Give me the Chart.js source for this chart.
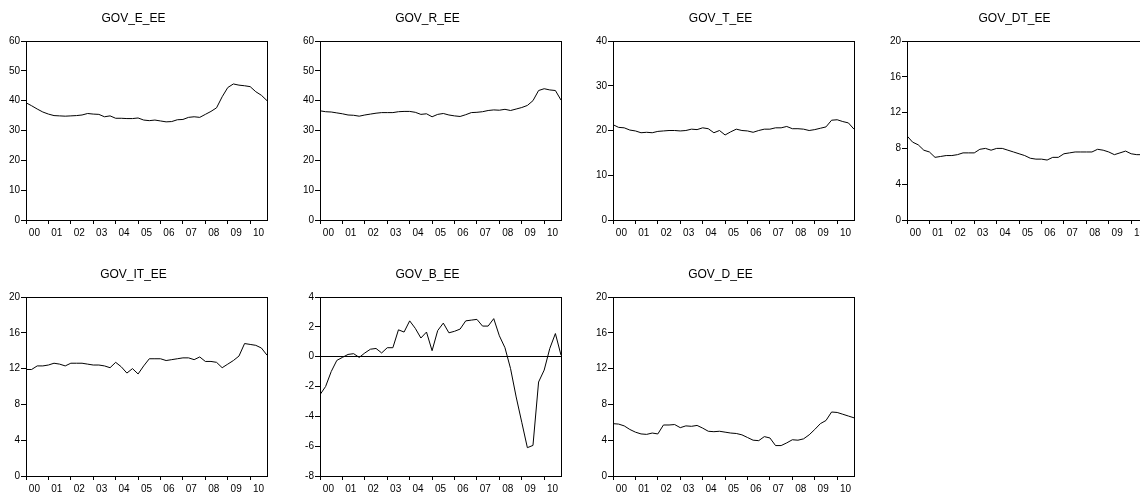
<!DOCTYPE html>
<html>
<head>
<meta charset="utf-8">
<title>Government finance indicators, EE</title>
<script src="https://cdn.jsdelivr.net/npm/chart.js@4.4.0/dist/chart.umd.min.js"></script>
<style>
  html, body { margin: 0; padding: 0; background: #fff; overflow: hidden; width: 1140px; height: 492px; }
  canvas.panel { position: absolute; }
</style>
</head>
<body>
<script>
// Quarterly observations, 2000Q1 .. 2010Q4 (44 quarters)
const yearLabels = ['00','01','02','03','04','05','06','07','08','09','10'];

const govE = [39.3,38.3,37.2,36.2, 35.5,35.0,34.9,34.8, 34.9,35.0,35.2,35.7, 35.5,35.4,34.6,34.9,
              34.1,34.1,34.0,34.0, 34.2,33.5,33.3,33.5, 33.2,32.9,33.0,33.6, 33.7,34.4,34.6,34.4,
              35.4,36.4,37.6,41.3, 44.4,45.6,45.2,45.0, 44.7,43.0,41.8,40.0];
const govR = [36.6,36.3,36.2,35.9, 35.6,35.2,35.1,34.8, 35.2,35.5,35.8,36.0, 36.0,36.0,36.3,36.4,
              36.4,36.1,35.4,35.6, 34.6,35.4,35.7,35.2, 34.9,34.7,35.3,36.0, 36.1,36.3,36.7,36.9,
              36.8,37.1,36.7,37.2, 37.7,38.4,40.0,43.4, 44.0,43.6,43.4,40.2];
const govT = [21.3,20.7,20.6,20.1, 19.9,19.5,19.6,19.5, 19.8,19.9,20.0,20.0, 19.9,20.0,20.3,20.2,
              20.6,20.4,19.5,20.0, 19.0,19.7,20.3,20.0, 19.9,19.6,20.0,20.3, 20.3,20.6,20.6,20.9,
              20.4,20.4,20.3,20.0, 20.2,20.5,20.8,22.3, 22.4,22.0,21.7,20.3];
const govDT = [9.4,8.7,8.4,7.8, 7.6,7.0,7.1,7.2, 7.2,7.3,7.5,7.5, 7.5,7.9,8.0,7.8,
               8.0,8.0,7.8,7.6, 7.4,7.2,6.9,6.8, 6.8,6.7,7.0,7.0, 7.4,7.5,7.6,7.6,
               7.6,7.6,7.9,7.8, 7.6,7.3,7.5,7.7, 7.4,7.3,7.3,7.2];
const govIT = [11.9,11.9,12.3,12.3, 12.4,12.6,12.5,12.3, 12.6,12.6,12.6,12.5, 12.4,12.4,12.3,12.1,
               12.7,12.2,11.5,12.0, 11.4,12.3,13.1,13.1, 13.1,12.9,13.0,13.1, 13.2,13.2,13.0,13.3,
               12.8,12.8,12.7,12.1, 12.5,12.9,13.4,14.8, 14.7,14.6,14.3,13.5];
const govB = [-2.55,-2.0,-1.0,-0.25, -0.05,0.15,0.2,-0.05, 0.25,0.5,0.55,0.25, 0.6,0.6,1.8,1.65,
              2.4,1.9,1.25,1.65, 0.4,1.75,2.25,1.6, 1.7,1.85,2.4,2.45, 2.5,2.05,2.05,2.55,
              1.4,0.6,-0.8,-2.7, -4.4,-6.1,-5.95,-1.7, -0.9,0.55,1.55,0.1];
const govD = [5.85,5.8,5.6,5.2, 4.9,4.7,4.65,4.8, 4.7,5.7,5.7,5.75, 5.4,5.6,5.55,5.65,
              5.35,5.0,4.95,5.0, 4.9,4.8,4.75,4.6, 4.3,4.0,3.95,4.4, 4.25,3.4,3.4,3.7,
              4.05,4.0,4.15,4.6, 5.2,5.85,6.2,7.15, 7.1,6.9,6.7,6.5];

const titles = ['GOV_E_EE','GOV_R_EE','GOV_T_EE','GOV_DT_EE','GOV_IT_EE','GOV_B_EE','GOV_D_EE'];
const seriesList = [govE, govR, govT, govDT, govIT, govB, govD];
const yMins  = [0, 0, 0, 0, 0, -8, 0];
const yMaxs  = [60, 60, 40, 20, 20, 4, 20];
const ySteps = [10, 10, 10, 4, 4, 2, 4];
const zeroLine = [false, false, false, false, false, true, false];

// Panel grid geometry
const colLeft = [0, 294, 587, 881];
const rowTop = [0, 256];
const PANEL_W = 293, PANEL_H = 250;
const AXIS_W = 26, RIGHT_PAD = 26, XAXIS_H = 30;

const FONT = 'Liberation Sans, Arial, Helvetica, sans-serif';
const lastIdx = 43;

// x ticks: year boundaries (tick marks) and mid-year positions (labels)
const xTickValues = [];
for (let k = 0; k < yearLabels.length; k++) {
  xTickValues.push(4 * k);
  xTickValues.push(4 * k + 1.5);
}
const isYearStart = v => Number.isInteger(v) && v % 4 === 0;

// closes the plot box along its top and right sides
const frameBox = {
  id: 'frameBox',
  afterDraw(chart) {
    const { ctx, chartArea: a } = chart;
    ctx.save();
    ctx.strokeStyle = '#000';
    ctx.lineWidth = 1;
    ctx.strokeRect(Math.round(a.left) + 0.5, Math.round(a.top) + 0.5,
                   Math.round(a.right - a.left), Math.round(a.bottom - a.top));
    ctx.restore();
  }
};

titles.forEach((title, i) => {
  const col = i % 4, row = Math.floor(i / 4);
  const canvas = document.createElement('canvas');
  canvas.className = 'panel';
  canvas.width = PANEL_W;
  canvas.height = PANEL_H;
  canvas.style.left = colLeft[col] + 'px';
  canvas.style.top = rowTop[row] + 'px';
  canvas.style.width = PANEL_W + 'px';
  canvas.style.height = PANEL_H + 'px';
  document.body.appendChild(canvas);

  const values = seriesList[i];
  new Chart(canvas, {
    type: 'line',
    data: {
      datasets: [{
        data: values.map((v, q) => ({ x: q, y: v })),
        borderColor: '#000',
        borderWidth: 1,
        pointRadius: 0,
        tension: 0,
        fill: false
      }]
    },
    options: {
      responsive: false,
      animation: false,
      devicePixelRatio: 1,
      layout: { padding: { left: 0, right: RIGHT_PAD, top: 0, bottom: 0 } },
      plugins: {
        legend: { display: false },
        tooltip: { enabled: false },
        title: {
          display: true,
          text: title,
          color: '#000',
          font: { family: FONT, size: 12, weight: 'normal' },
          padding: { top: 11.3, bottom: 15.3 }
        }
      },
      scales: {
        x: {
          type: 'linear',
          min: 0,
          max: lastIdx,
          afterBuildTicks: s => { s.ticks = xTickValues.map(v => ({ value: v })); },
          afterFit: s => { s.height = XAXIS_H; },
          ticks: {
            autoSkip: false,
            maxRotation: 0,
            minRotation: 0,
            padding: 3,
            color: '#000',
            font: { family: FONT, size: 10 },
            callback: v => isYearStart(v) ? '' : yearLabels[Math.floor(v / 4)]
          },
          grid: {
            drawOnChartArea: false,
            drawTicks: true,
            tickLength: 4,
            tickWidth: 1,
            tickColor: c => (c.tick && isYearStart(c.tick.value)) ? '#000' : 'rgba(0,0,0,0)'
          },
          border: { display: true, color: '#000', width: 1 }
        },
        y: {
          min: yMins[i],
          max: yMaxs[i],
          afterFit: s => { s.width = AXIS_W; },
          ticks: {
            stepSize: ySteps[i],
            autoSkip: false,
            padding: 1,
            color: '#000',
            font: { family: FONT, size: 10 }
          },
          grid: {
            drawOnChartArea: zeroLine[i],
            drawTicks: true,
            tickLength: 5,
            tickWidth: 1,
            tickColor: '#000',
            lineWidth: 1,
            color: c => (c.tick && c.tick.value === 0) ? '#000' : 'rgba(0,0,0,0)'
          },
          border: { display: true, color: '#000', width: 1 }
        }
      }
    },
    plugins: [frameBox]
  });
});
</script>
</body>
</html>
